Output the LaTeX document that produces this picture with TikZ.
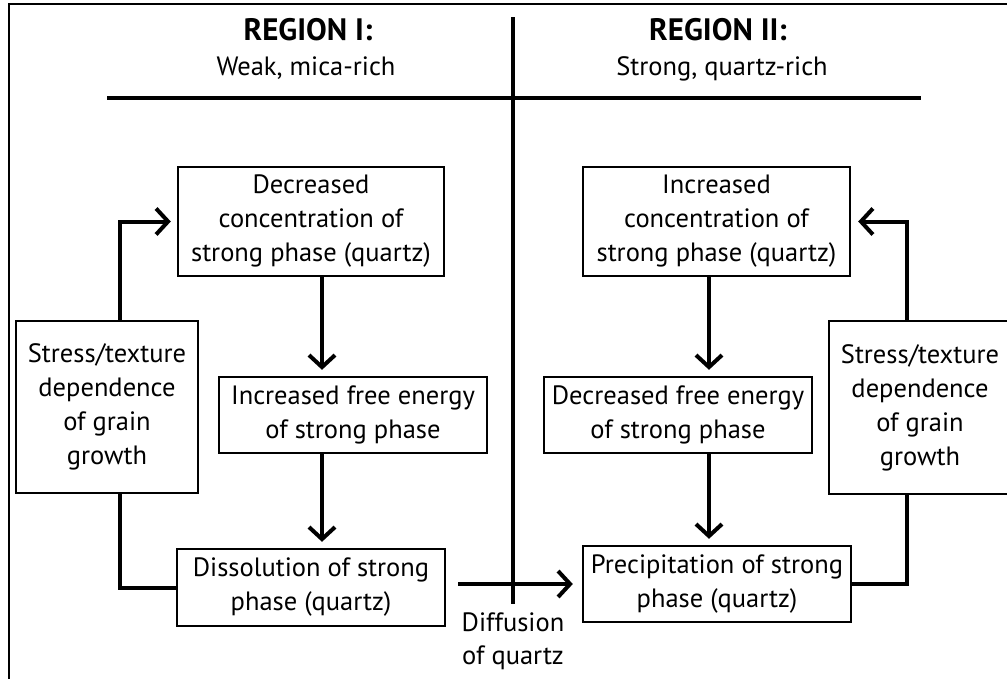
\documentclass[tikz,border=0pt]{standalone}
\usepackage{fontspec}
\setmainfont{PT Sans}
\usetikzlibrary{arrows.meta}
\begin{document}
\begin{tikzpicture}[x=1pt,y=-1pt,
  box/.style={draw, line width=2.4pt, inner sep=0pt, align=center, font=\fontsize{26.5}{34}\selectfont},
  conn/.style={line width=4pt},
  arr/.style={line width=4pt, -{Straight Barb[length=12pt,width=26pt]}},
  frame/.style={line width=2pt},
  title/.style={font=\fontsize{31}{36}\selectfont\bfseries, anchor=base},
  sub/.style={font=\fontsize{26.5}{34}\selectfont, anchor=base},
  lbl/.style={font=\fontsize{26.5}{33}\selectfont, align=center, inner sep=0pt}]
\useasboundingbox (0,0) rectangle (1007,678);
% frame
\coordinate (fbl) at (9,680);
\coordinate (ftl) at (9,4);
\coordinate (ftr) at (1010,4);
\draw[frame] (fbl) -- (ftl) -- (ftr);
% headers
\node[title] (t1) at (308,40) {REGION I:};
\node[title] (t2) at (718,40) {REGION II:};
\node[sub] (s1) at (306,75) {Weak, mica-rich};
\node[sub] (s2) at (722,75) {Strong, quartz-rich};
\coordinate (hl) at (107,98);
\coordinate (hr) at (921,98);
\draw[conn] (hl) -- (hr);
\coordinate (dtop) at (513,17);
\coordinate (dbot) at (513,604);
\draw[conn] (dtop) -- (dbot);
% boxes
\node[box, minimum width=266pt, minimum height=109pt] (A) at (311,221.5) {Decreased\\concentration of\\strong phase (quartz)};
\node[box, minimum width=268pt, minimum height=76pt] (B) at (353,415) {Increased free energy\\of strong phase};
\node[box, minimum width=268pt, minimum height=77pt] (C) at (311,587.5) {Dissolution of strong\\phase (quartz)};
\node[box, minimum width=182pt, minimum height=172pt] (S1) at (107,407) {Stress/texture\\dependence\\of grain\\growth};
\node[box, minimum width=267pt, minimum height=109pt] (D) at (716.5,221.5) {Increased\\concentration of\\strong phase (quartz)};
\node[box, minimum width=268pt, minimum height=76pt] (E) at (678,415) {Decreased free energy\\of strong phase};
\node[box, minimum width=268pt, minimum height=76pt] (F) at (717,584) {Precipitation of strong\\phase (quartz)};
\node[box, minimum width=182pt, minimum height=173pt] (S2) at (920,407.5) {Stress/texture\\dependence\\of grain\\growth};
\node[lbl] (dif) at (513,641) {Diffusion\\of quartz};
% connectors
\coordinate (xl) at (322,0);
\coordinate (xr) at (709,0);
\coordinate (x1) at (120,0);
\coordinate (x2) at (907,0);
\draw[arr, shorten >=6pt] (A.south -| xl) -- (B.north -| xl);
\draw[arr, shorten >=6pt] (B.south -| xl) -- (C.north -| xl);
\draw[arr, shorten >=6pt] (D.south -| xr) -- (E.north -| xr);
\draw[arr, shorten >=6pt] (E.south -| xr) -- (F.north -| xr);
\draw[arr, shorten >=6pt] (S1.north -| x1) |- (A.west);
\draw[conn] (S1.south -| x1) |- (C.west);
\draw[arr, shorten >=7pt] (S2.north -| x2) |- (D.east);
\draw[conn] (S2.south -| x2) |- (F.east);
\draw[arr, shorten <=12pt, shorten >=9pt] (C.east |- F.west) -- (F.west);
\end{tikzpicture}
\end{document}
